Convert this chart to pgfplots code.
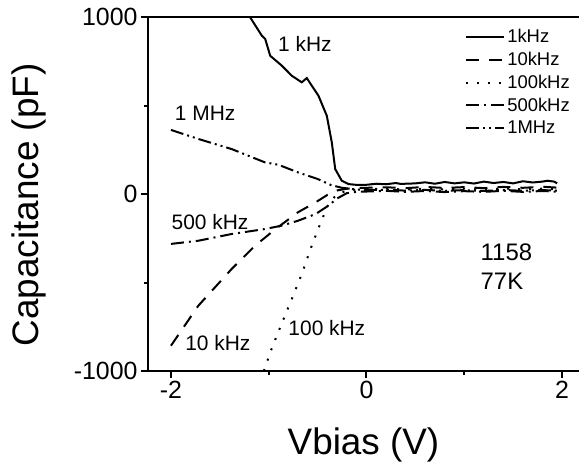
\documentclass[border=0pt]{standalone}
\usepackage{fontspec}
\setmainfont{Liberation Sans}
\usepackage{pgfplots}
\pgfplotsset{compat=1.18}

\begin{document}
\begin{tikzpicture}
\begin{axis}[
    scale only axis, width=441bp, height=354bp,
    xmin=-2.235, xmax=2.276, ymin=-1000, ymax=1000,
    axis line style={line width=2bp},
    xtick={-2,0,2}, minor xtick={-1,1},
    ytick={-1000,0,1000}, minor ytick={-500,500},
    xtick pos=bottom, ytick pos=left,
    tick align=outside,
    major tick length=7bp, minor tick length=4bp,
    every tick/.style={line width=2bp, black},
    tick label style={font=\fontsize{25}{29}\selectfont},
    /pgf/number format/assume math mode=true,
    /pgf/number format/1000 sep={},
    scaled y ticks=false,
    xlabel={Vbias (V)},
    ylabel={Capacitance (pF)},
    label style={font=\fontsize{37}{44}\selectfont},
    xlabel style={at={(axis description cs:0.4887,-0.21)}, anchor=center},
    ylabel style={at={(axis description cs:-0.27,0.469)}, anchor=center, rotate=0},
    legend style={at={(axis description cs:0.719,0.971)}, anchor=north west,
        draw=none, fill=none, inner sep=0pt, row sep=4bp,
        font=\fontsize{18.5}{20}\selectfont,
        /tikz/every even column/.style={column sep=3bp}},
    legend cell align=left,
    legend image code/.code={\draw[#1, line width=2bp] (0bp,0bp) -- (38bp,0bp);},
    every axis plot/.append style={line width=2bp, black},
]
\coordinate (bl) at (rel axis cs:0,0);
% 1 kHz
\addplot[solid] coordinates {
 (-1.25,1080) (-1.19,998) (-1.07,894) (-1.036,876) (-0.985,781) (-0.866,725)
 (-0.764,668) (-0.662,631) (-0.611,655) (-0.491,555) (-0.406,442) (-0.355,292)
 (-0.32,141) (-0.253,75) (-0.184,56) (-0.11,52) (0,52) (0.1,58) (0.2,55)
 (0.3,62) (0.35,57) (0.5,60) (0.6,66) (0.7,58) (0.8,68) (0.9,60) (1.0,66)
 (1.1,59) (1.2,70) (1.3,62) (1.4,68) (1.5,60) (1.6,72) (1.7,65) (1.8,70)
 (1.85,75) (1.92,70) (1.95,60)
};
\addlegendentry{1kHz}
% 10 kHz
\addplot[dash pattern=on 13bp off 10bp] coordinates {
 (-2.0,-857) (-1.72,-631) (-1.38,-424) (-1.14,-292) (-0.93,-198) (-0.7,-103)
 (-0.52,-47) (-0.4,-5) (-0.3,20) (-0.2,30) (-0.1,34) (0,35) (0.2,38) (0.4,33)
 (0.6,40) (0.8,34) (1.0,39) (1.2,33) (1.4,40) (1.6,35) (1.8,41) (1.95,36)
};
\addlegendentry{10kHz}
% 100 kHz
\addplot[dash pattern=on 2bp off 9bp] coordinates {
 (-1.05,-1000) (-1.036,-979) (-0.985,-895) (-0.883,-753) (-0.764,-593)
 (-0.662,-452) (-0.56,-292) (-0.474,-169) (-0.389,-56) (-0.3,0) (-0.2,18)
 (-0.1,25) (0,27) (0.2,30) (0.4,25) (0.6,31) (0.8,26) (1.0,30) (1.2,24)
 (1.4,31) (1.6,26) (1.8,30) (1.95,27)
};
\addlegendentry{100kHz}
% 500 kHz
\addplot[dash pattern=on 13bp off 5bp on 2bp off 5bp] coordinates {
 (-2.0,-282) (-1.72,-264) (-1.38,-226) (-1.04,-198) (-0.87,-179) (-0.7,-151)
 (-0.52,-113) (-0.39,-66) (-0.3,-25) (-0.2,5) (-0.1,12) (0,14) (0.2,18)
 (0.4,12) (0.6,17) (0.8,11) (1.0,16) (1.2,12) (1.4,18) (1.6,12) (1.8,17)
 (1.95,13)
};
\addlegendentry{500kHz}
% 1 MHz
\addplot[dash pattern=on 13bp off 4bp on 2bp off 4bp on 2bp off 4bp] coordinates {
 (-2.0,362) (-1.72,311) (-1.38,254) (-1.04,179) (-0.9,165) (-0.7,122)
 (-0.5,85) (-0.36,50) (-0.25,35) (-0.1,25) (0,22) (0.2,24) (0.4,19)
 (0.6,23) (0.8,18) (1.0,22) (1.2,17) (1.4,23) (1.6,18) (1.8,22) (1.95,19)
};
\addlegendentry{1MHz}

\node[font=\fontsize{21}{25}\selectfont] at (axis cs:-0.63,847) {1 kHz};
\node[font=\fontsize{21}{25}\selectfont] at (axis cs:-1.65,458) {1 MHz};
\node[font=\fontsize{21}{25}\selectfont] at (axis cs:-1.6,-158) {500 kHz};
\node[font=\fontsize{21}{25}\selectfont] at (axis cs:-1.52,-842) {10 kHz};
\node[font=\fontsize{21}{25}\selectfont, anchor=west, inner sep=0pt] at (axis cs:-0.8,-757) {100 kHz};
\node[font=\fontsize{24}{28}\selectfont, anchor=west, inner sep=0pt, align=left] at (axis cs:1.166,-410)
  {1158\\[1bp]77K};
\end{axis}
\pgfresetboundingbox
\path[use as bounding box] (bl) ++(-148bp,-92bp) rectangle ++(579bp,463bp);
\end{tikzpicture}
\end{document}
